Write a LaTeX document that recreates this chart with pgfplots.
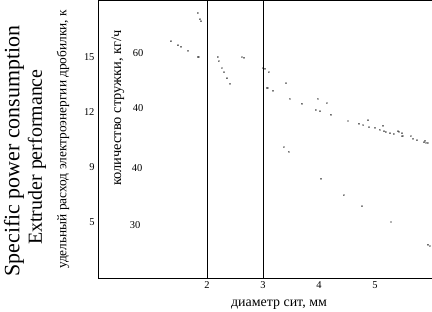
\documentclass[border=0pt]{standalone}
\usepackage{fontspec}
\setmainfont{Liberation Serif}
\usepackage{pgfplots}
\pgfplotsset{compat=1.18}
\begin{document}
\begin{tikzpicture}
\begin{axis}[
  scale only axis, width=334bp, height=278bp,
  xmin=0.054, xmax=6.018, ymin=2.945, ymax=18.11,
  axis x line=box, axis y line=left,
  axis line style={-, line width=0.8bp},
  xtick={2,3,4,5}, ytick={6,9,12,15}, yticklabels={5,9,12,15},
  major tick length=0,
  tick label style={font=\fontsize{10.5}{12}\selectfont},
  /pgf/number format/assume math mode=true,
  clip=false,
]
\coordinate (O) at (rel axis cs:0,0);
\addplot[black, line width=0.8bp] coordinates {(2,2.945) (2,18.11)};
\addplot[black, line width=0.8bp] coordinates {(3,2.945) (3,18.11)};
\addplot[only marks, mark=*, mark size=0.45bp, black] coordinates {
(1.839,17.40) (1.875,17.07) (1.893,16.96)
(1.357,15.87) (1.482,15.65) (1.536,15.55) (1.661,15.33) (1.839,15.00) (1.857,15.00)
(2.196,15.00) (2.214,14.78) (2.268,14.40) (2.304,14.18) (2.357,13.85) (2.411,13.53)
(2.625,15.00) (2.661,14.95)
(3.000,14.40) (3.036,14.35) (3.107,14.18) (3.071,13.31) (3.089,13.31) (3.179,13.15)
(3.411,13.58) (3.482,12.71) (3.696,12.44) (3.982,12.71) (4.143,12.49) (3.946,12.11)
(4.018,12.05) (4.214,11.84) (4.518,11.51) (4.714,11.35) (4.786,11.29) (4.875,11.56)
(4.893,11.18) (5.000,11.13) (5.089,11.02) (5.143,11.24) (5.161,10.96) (5.196,10.91)
(5.268,10.85) (5.339,10.80) (5.411,10.96) (5.429,10.91) (5.482,10.85) (5.482,10.69)
(5.500,10.69) (5.643,10.69) (5.679,10.53) (5.750,10.47) (5.875,10.36) (5.893,10.42)
(5.911,10.31) (5.946,10.31)
};
\addplot[only marks, mark=*, mark size=0.45bp, black] coordinates {
(3.375,10.09) (3.464,9.82) (4.036,8.35) (4.446,7.47) (4.768,6.87) (5.286,6.00)
(5.946,4.75) (5.982,4.69)
};
\end{axis}
\begin{scope}[shift={(O)}, x=1bp, y=1bp]
\node[rotate=90, inner sep=0, font=\fontsize{22}{24}\selectfont] at (-84,127) {Specific power consumption};
\node[rotate=90, inner sep=0, font=\fontsize{20}{22}\selectfont] at (-61,121) {Extruder performance};
\node[rotate=90, inner sep=0, anchor=west, font=\fontsize{13.4}{16}\selectfont] at (-35,9) {удельный расход электроэнергии дробилки, к};
\node[rotate=90, inner sep=0, anchor=west, font=\fontsize{14.5}{16}\selectfont] at (20,92) {количество стружки, кг/ч};
\node[inner sep=0, font=\fontsize{10.5}{12}\selectfont] at (40,225) {60};
\node[inner sep=0, font=\fontsize{10.5}{12}\selectfont] at (40,170) {40};
\node[inner sep=0, font=\fontsize{10.5}{12}\selectfont] at (39,110) {40};
\node[inner sep=0, font=\fontsize{10.5}{12}\selectfont] at (37,53) {30};
\node[inner sep=0, font=\fontsize{14}{16}\selectfont] at (181,-27) {диаметр сит, мм};
\end{scope}
\pgfresetboundingbox
\path (O) ++(-98bp,-34bp) rectangle ++(432bp,312bp);
\end{tikzpicture}
\end{document}
